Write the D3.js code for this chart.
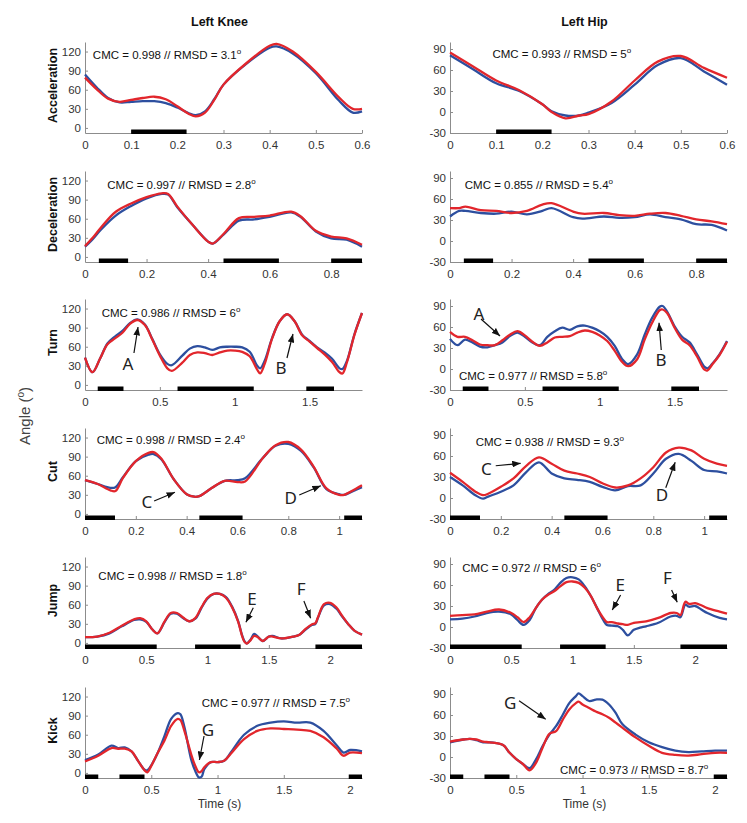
<!DOCTYPE html>
<html><head><meta charset="utf-8">
<script src="https://cdn.jsdelivr.net/npm/d3@7"></script>
<style>body{margin:0;background:#fff} svg{display:block}</style>
</head><body>
<svg id="chart" width="747" height="823"></svg>
<script>
// ---------------- DATA ----------------
const tasks = ["Acceleration","Deceleration","Turn","Cut","Jump","Kick"];
const joints = ["Left Knee","Left Hip"];
const kneeYTicks = [0,30,60,90,120];
const hipYTicks = [-30,0,30,60,90];
const kneeYDomain = [-8,135];
const hipYDomain = [-30,100];
const timeMax = [0.6,0.9,1.85,1.09,2.26,2.09];
const xTickValues = [
  [0,0.1,0.2,0.3,0.4,0.5,0.6],
  [0,0.2,0.4,0.6,0.8],
  [0,0.5,1,1.5],
  [0,0.2,0.4,0.6,0.8,1],
  [0,0.5,1,1.5,2],
  [0,0.5,1,1.5,2]
];
const phaseBars = [
  [[0.1,0.22]],
  [[0.045,0.14],[0.45,0.63],[0.8,0.9]],
  [[0.085,0.257],[0.618,1.127],[1.478,1.663]],
  [[0,0.118],[0.45,0.62],[1.02,1.09]],
  [[0,0.585],[0.898,1.27],[1.88,2.26]],
  [[0,0.1],[0.26,0.449],[1.99,2.09]]
];
const cmcText = [
  ["CMC = 0.998 // RMSD = 3.1","CMC = 0.993 // RMSD = 5"],
  ["CMC = 0.997 // RMSD = 2.8","CMC = 0.855 // RMSD = 5.4"],
  ["CMC = 0.986 // RMSD = 6","CMC = 0.977 // RMSD = 5.8"],
  ["CMC = 0.998 // RMSD = 2.4","CMC = 0.938 // RMSD = 9.3"],
  ["CMC = 0.998 // RMSD = 1.8","CMC = 0.972 // RMSD = 6"],
  ["CMC = 0.977 // RMSD = 7.5","CMC = 0.973 // RMSD = 8.7"]
];
// anchor of each CMC label in data units [time, angle]
const cmcAnchor = [
  [[0.017,107.8],[0.092,76.7]],
  [[0.0725,106.2],[0.048,73.9]],
  [[0.1115,106.2],[0.06,-15.7]],
  [[0.046,109.4],[0.101,74.7]],
  [[0.109,98.9],[0.1,78.1]],
  [[0.881,103.1],[0.83,-24.3]]
];

// Acceleration
const accKneeT    = [0,0.025,0.05,0.075,0.1,0.125,0.15,0.175,0.2,0.225,0.24,0.26,0.28,0.3,0.35,0.4,0.415,0.45,0.5,0.55,0.58,0.6];
const accKneeBlue = [84,64,47,40,41,42,42,39,32,23,20,26,45,68,101,126,128,117,86,43,24,26];
const accKneeRed  = [79,61,46,41,44,47,49,45,34,22,18,24,44,68,102,129,132,120,88,48,30,30];
const accHipT    = [0,0.05,0.1,0.15,0.2,0.22,0.25,0.28,0.3,0.35,0.4,0.45,0.5,0.55,0.6];
const accHipBlue = [81,61,41,30,11,1,-5,-5,-1,13,39,67,77,58,39];
const accHipRed  = [85,65,45,31,11,0,-9,-5,-3,15,45,72,80,63,49];
// Deceleration
const decKneeT    = [0,0.025,0.05,0.1,0.15,0.2,0.25,0.27,0.3,0.35,0.4,0.415,0.45,0.5,0.55,0.6,0.67,0.7,0.75,0.8,0.85,0.9];
const decKneeBlue = [16,28,42,65,80,92,99,98,78,50,24,21,35,57,59,63,70,63,40,29,27,16];
const decKneeRed  = [17,30,45,71,84,94,100,99,79,50,24,21,36,61,63,65,71,64,41,32,29,19];
const decHipT    = [0,0.03,0.05,0.1,0.15,0.2,0.25,0.3,0.33,0.4,0.43,0.5,0.55,0.6,0.65,0.7,0.75,0.8,0.85,0.9];
const decHipBlue = [35,43,43,40,39,42,38,43,47,34,32,35,33,34,38,34,31,24,23,15];
const decHipRed  = [47,47,49,44,43,40,43,52,54,42,39,40,37,36,39,40,36,31,28,24];
// Turn
const turnKneeT    = [0,0.05,0.1,0.15,0.2,0.25,0.3,0.35,0.4,0.45,0.5,0.55,0.58,0.65,0.7,0.75,0.8,0.85,0.9,0.95,1.0,1.05,1.1,1.15,1.17,1.2,1.25,1.3,1.35,1.4,1.45,1.5,1.55,1.6,1.65,1.7,1.72,1.75,1.8,1.85];
const turnKneeBlue = [43,20,41,65,76,85,97,103,95,72,48,33,31,46,57,61,59,55,59,60,60,59,52,30,26,38,74,100,111,100,79,69,59,51,41,26,25,38,80,113];
const turnKneeRed  = [43,20,41,64,73,82,96,102,94,71,46,26,22,35,47,51,50,47,51,54,54,52,45,24,18,33,73,100,111,100,78,68,58,48,36,20,18,36,79,113];
const turnHipT    = [0,0.05,0.1,0.15,0.2,0.25,0.3,0.35,0.4,0.45,0.5,0.55,0.6,0.65,0.7,0.75,0.8,0.85,0.9,0.95,1.0,1.05,1.1,1.15,1.19,1.25,1.3,1.35,1.4,1.42,1.45,1.5,1.55,1.6,1.65,1.7,1.72,1.75,1.8,1.85];
const turnHipBlue = [43,34,42,38,32,31,34,38,47,52,46,38,34,46,54,59,56,61,62,59,54,46,33,14,7,21,49,73,89,90,82,61,46,38,21,3,1,7,21,40];
const turnHipRed  = [53,46,46,41,35,34,34,41,49,54,48,39,33,38,45,46,47,52,55,53,48,40,26,10,4,14,42,66,84,85,80,59,42,34,18,-1,-2,6,20,39];
// Cut
const cutKneeT    = [0,0.05,0.1,0.12,0.15,0.2,0.25,0.27,0.3,0.35,0.4,0.43,0.45,0.5,0.55,0.6,0.63,0.7,0.75,0.8,0.85,0.9,0.95,1.0,1.02,1.05,1.09];
const cutKneeBlue = [53,47,41,42,58,83,93,94,86,54,31,27,28,41,52,53,56,88,107,110,99,73,39,31,30,35,42];
const cutKneeRed  = [53,47,37,36,57,83,96,97,87,54,31,27,28,41,52,50,51,88,108,113,101,74,40,30,30,36,45];
const cutHipT    = [0,0.05,0.1,0.13,0.15,0.2,0.25,0.3,0.35,0.4,0.45,0.5,0.55,0.6,0.65,0.7,0.75,0.8,0.85,0.9,0.95,1.0,1.05,1.09];
const cutHipBlue = [30,18,4,-1,2,9,18,37,51,35,28,26,23,16,11,17,18,35,56,63,53,40,38,35];
const cutHipRed  = [36,23,9,4,6,16,28,46,58,49,39,35,30,21,15,18,28,44,65,72,68,56,49,46];
// Jump
const jumpKneeT    = [0,0.1,0.2,0.3,0.4,0.45,0.5,0.55,0.59,0.65,0.7,0.75,0.8,0.85,0.9,0.95,1.0,1.05,1.1,1.15,1.2,1.25,1.28,1.3,1.32,1.35,1.38,1.41,1.45,1.5,1.53,1.6,1.7,1.75,1.8,1.85,1.88,1.9,1.95,2.0,2.05,2.1,2.15,2.2,2.26];
const jumpKneeBlue = [9,10,15,26,36,37,33,21,15,33,46,46,39,34,38,55,70,77,77,72,57,34,13,3,-1,5,14,10,3,10,11,7,10,13,21,28,30,39,59,61,54,41,29,19,13];
const jumpKneeRed  = [9,10,16,27,37,39,34,21,15,34,47,47,40,34,39,56,71,77,77,71,56,33,12,2,-1,4,11,9,3,10,10,7,10,13,22,29,31,40,61,63,56,42,29,19,13];
const jumpHipT    = [0,0.1,0.2,0.3,0.4,0.5,0.55,0.6,0.65,0.7,0.75,0.8,0.85,0.9,0.95,1.0,1.05,1.1,1.15,1.2,1.25,1.28,1.32,1.37,1.41,1.45,1.5,1.55,1.6,1.7,1.8,1.85,1.88,1.92,1.95,2.0,2.05,2.1,2.2,2.26];
const jumpHipBlue = [11,12,15,20,22,18,10,3,10,27,39,47,53,63,70,71,68,58,44,27,10,3,2,1,-4,-12,-4,-1,1,6,15,16,14,32,29,30,25,20,13,11];
const jumpHipRed  = [16,17,18,22,25,20,14,7,14,27,39,46,51,58,64,65,63,56,44,27,13,7,7,5,4,3,6,7,8,13,20,20,17,36,33,34,31,27,22,19];
// Kick
const kickKneeT    = [0,0.1,0.2,0.25,0.3,0.35,0.4,0.45,0.47,0.5,0.55,0.6,0.65,0.7,0.72,0.75,0.8,0.83,0.86,0.88,0.9,0.95,1.0,1.05,1.1,1.2,1.3,1.4,1.5,1.6,1.7,1.8,1.9,1.95,2.0,2.09];
const kickKneeBlue = [20,29,43,39,40,34,19,5,4,12,32,58,85,94,92,72,22,4,-7,-6,6,17,17,19,32,60,74,79,81,79,79,66,43,32,36,34];
const kickKneeRed  = [18,27,39,38,38,34,19,4,1,11,32,51,74,85,83,66,30,12,1,3,9,17,17,19,30,53,66,70,69,68,66,56,38,27,32,31];
const kickHipT    = [0,0.1,0.15,0.2,0.25,0.3,0.4,0.45,0.5,0.55,0.6,0.65,0.7,0.75,0.8,0.85,0.9,0.95,0.97,1.0,1.05,1.1,1.15,1.2,1.25,1.3,1.4,1.5,1.6,1.7,1.8,1.9,2.0,2.09];
const kickHipBlue = [21,25,26,24,21,21,17,6,-3,-10,-16,-3,16,32,44,60,77,87,91,87,80,82,82,75,63,47,32,21,14,9,7,8,9,9];
const kickHipRed  = [22,25,26,25,22,21,17,6,-3,-10,-19,-8,14,33,37,53,68,77,79,75,70,65,61,56,49,42,28,16,6,3,2,4,6,6];

// annotations: [row, col, letter, labelT, labelV, tailT, tailV, headT, headV]
const annotations = [
  [2,0,"A",0.287,34.4,0.327,50.1,0.354,91],
  [2,0,"B",1.309,26.6,1.349,42.3,1.389,80],
  [2,1,"A",0.194,80,0.207,71.4,0.334,47.1],
  [2,1,"B",1.41,12.9,1.411,27.1,1.396,66.1],
  [3,0,"C",0.243,19.8,0.272,20.3,0.354,34],
  [3,0,"D",0.809,26.3,0.843,29.7,0.928,44.3],
  [3,1,"C",0.143,42.4,0.180,46.1,0.278,49.6],
  [3,1,"D",0.834,4.7,0.849,14.7,0.886,51],
  [4,0,"E",1.362,70.1,1.373,55.3,1.313,32.4],
  [4,0,"F",1.764,85.2,1.786,65.9,1.841,38.7],
  [4,1,"E",1.388,61.1,1.392,45.7,1.324,24.3],
  [4,1,"F",1.773,70.3,1.808,52.9,1.854,35.3],
  [5,0,"G",0.928,68.7,0.898,58,0.863,20.3],
  [5,1,"G",0.455,77.9,0.521,80.4,0.722,53.9]
];

const panels = [
  [{t:accKneeT,b:accKneeBlue,r:accKneeRed},{t:accHipT,b:accHipBlue,r:accHipRed}],
  [{t:decKneeT,b:decKneeBlue,r:decKneeRed},{t:decHipT,b:decHipBlue,r:decHipRed}],
  [{t:turnKneeT,b:turnKneeBlue,r:turnKneeRed},{t:turnHipT,b:turnHipBlue,r:turnHipRed}],
  [{t:cutKneeT,b:cutKneeBlue,r:cutKneeRed},{t:cutHipT,b:cutHipBlue,r:cutHipRed}],
  [{t:jumpKneeT,b:jumpKneeBlue,r:jumpKneeRed},{t:jumpHipT,b:jumpHipBlue,r:jumpHipRed}],
  [{t:kickKneeT,b:kickKneeBlue,r:kickKneeRed},{t:kickHipT,b:kickHipBlue,r:kickHipRed}]
];

// ---------------- LAYOUT ----------------
const FONT = "'Liberation Sans', Arial, Helvetica, sans-serif";
const colX = [[85,362],[450,727]];
const rowBottom = [133,262,390,519,648,778];
const plotH = 91;
const blueC = "#2d4f9f", redC = "#e2262c";
const axisC = "#8c8c8c", textC = "#333";
const fmt = d => String(d);

const svg = d3.select("#chart");
svg.append("rect").attr("width",747).attr("height",823).attr("fill","#fff");

const defs = svg.append("defs");
defs.append("marker").attr("id","ah").attr("viewBox","0 0 10 8")
  .attr("refX",10).attr("refY",4).attr("markerWidth",7).attr("markerHeight",5.6)
  .attr("orient","auto")
  .append("path").attr("d","M0,0L10,4L0,8z").attr("fill","#111");

const scales = [];
tasks.forEach((task,i)=>{
  scales.push([]);
  joints.forEach((jn,j)=>{
    const p = panels[i][j];
    const x = d3.scaleLinear().domain([0,timeMax[i]]).range(colX[j]);
    const y = d3.scaleLinear().domain(j===0?kneeYDomain:hipYDomain).range([rowBottom[i], rowBottom[i]-plotH]);
    scales[i].push({x,y});
    const g = svg.append("g");

    const xa = g.append("g").attr("transform",`translate(0,${rowBottom[i]})`)
      .call(d3.axisBottom(x).tickValues(xTickValues[i]).tickSize(-3).tickSizeOuter(0).tickPadding(8).tickFormat(fmt));
    const ya = g.append("g").attr("transform",`translate(${colX[j][0]},0)`)
      .call(d3.axisLeft(y).tickValues(j===0?kneeYTicks:hipYTicks).tickSize(-3).tickSizeOuter(0).tickPadding(4).tickFormat(fmt));
    [xa,ya].forEach(a=>{
      a.select(".domain").attr("stroke",axisC).attr("stroke-width",1);
      a.selectAll(".tick line").attr("stroke",axisC);
      a.selectAll(".tick text").attr("fill",textC).style("font-family",FONT).style("font-size","11.5px");
    });

    g.selectAll("rect.phase").data(phaseBars[i]).join("rect").attr("class","phase")
      .attr("x",d=>x(d[0])).attr("width",d=>x(d[1])-x(d[0]))
      .attr("y",rowBottom[i]-3.5).attr("height",4.5).attr("fill","#000");

    const line = d3.line().x((d,k)=>x(p.t[k])).y(d=>y(d)).curve(d3.curveCatmullRom.alpha(0.5));
    g.append("path").datum(p.b).attr("d",line).attr("fill","none").attr("stroke",blueC).attr("stroke-width",2.3).attr("stroke-linejoin","round");
    g.append("path").datum(p.r).attr("d",line).attr("fill","none").attr("stroke",redC).attr("stroke-width",2.3).attr("stroke-linejoin","round");

    const a = cmcAnchor[i][j];
    const t = g.append("text").attr("x",x(a[0])).attr("y",y(a[1]))
      .style("font-family",FONT).style("font-size","11.5px").attr("fill","#111");
    t.append("tspan").text(cmcText[i][j]);
    t.append("tspan").attr("dy",-5).style("font-size","8px").text("o");

    if(j===0){
      svg.append("text").attr("transform",`translate(56.5,${rowBottom[i]-plotH/2-2}) rotate(-90)`)
        .attr("text-anchor","middle").style("font-family",FONT).style("font-size","12.5px")
        .style("font-weight","bold").attr("fill","#111").text(task);
    }
  });
});

// annotations
annotations.forEach(a=>{
  const s = scales[a[0]][a[1]];
  svg.append("line").attr("x1",s.x(a[5])).attr("y1",s.y(a[6])).attr("x2",s.x(a[7])).attr("y2",s.y(a[8]))
    .attr("stroke","#111").attr("stroke-width",1.2).attr("marker-end","url(#ah)");
  svg.append("text").attr("x",s.x(a[3])).attr("y",s.y(a[4])).attr("text-anchor","middle")
    .attr("dominant-baseline","central").style("font-family","'Noto Sans', sans-serif")
    .style("font-size","17px").attr("fill","#222").text(a[2]);
});

// column titles
joints.forEach((jn,j)=>{
  const cx = (colX[j][0]+colX[j][1])/2 - 4;
  svg.append("text").attr("x",cx).attr("y",26).attr("text-anchor","middle")
    .style("font-family",FONT).style("font-size","12.5px").style("font-weight","bold").attr("fill","#111").text(jn);
  svg.append("text").attr("x",cx).attr("y",808).attr("text-anchor","middle")
    .style("font-family",FONT).style("font-size","12px").attr("fill",textC).text("Time (s)");
});

// y label
const yl = svg.append("text").attr("transform","translate(30,416) rotate(-90)").attr("text-anchor","middle")
  .style("font-family",FONT).style("font-size","15px").attr("fill","#444");
yl.append("tspan").text("Angle (");
yl.append("tspan").attr("dy",-6).style("font-size","10px").text("o");
yl.append("tspan").attr("dy",6).text(")");
</script>
</body></html>
